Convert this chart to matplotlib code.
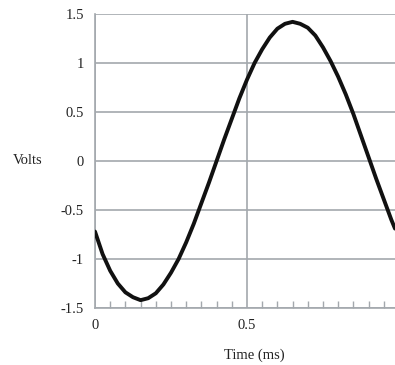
import matplotlib.pyplot as plt
from matplotlib.ticker import MultipleLocator

# time in ms, voltage in V
time_ms = [0.000, 0.025, 0.050, 0.075, 0.100, 0.125, 0.150, 0.175, 0.200, 0.225,
           0.250, 0.275, 0.300, 0.325, 0.350, 0.375, 0.400, 0.425, 0.450, 0.475,
           0.500, 0.525, 0.550, 0.575, 0.600, 0.625, 0.650, 0.675, 0.700, 0.725,
           0.750, 0.775, 0.800, 0.825, 0.850, 0.875, 0.900, 0.925, 0.950, 0.975,
           0.987]
volts = [-0.72, -0.95, -1.12, -1.25, -1.34, -1.39, -1.42, -1.40, -1.35, -1.26,
         -1.14, -1.00, -0.83, -0.64, -0.43, -0.22, 0.00, 0.22, 0.43, 0.64,
         0.83, 1.00, 1.14, 1.26, 1.35, 1.40, 1.42, 1.40, 1.36, 1.28,
         1.16, 1.02, 0.86, 0.68, 0.48, 0.26, 0.04, -0.18, -0.39, -0.60,
         -0.69]

x_max = 0.987
y_ticks = [-1.5, -1, -0.5, 0, 0.5, 1, 1.5]
y_labels = ['-1.5', '-1', '-0.5', '0', '0.5', '1', '1.5']

plt.rcParams['font.family'] = ['Liberation Serif', 'DejaVu Serif']
grid_col = '#a3a8ad'
txt_col = '#222222'

fig = plt.figure(figsize=(3.95, 3.65), dpi=100)
ax = fig.add_axes([95 / 395, 1 - 308 / 365, 1 - 95 / 395, (308 - 14) / 365])

ax.plot(time_ms, volts, color='#111111', lw=2.8, solid_capstyle='round', zorder=3)

ax.set_xlim(0, x_max)
ax.set_ylim(-1.5, 1.5)
ax.set_yticks(y_ticks)
ax.set_yticklabels(y_labels)
ax.set_xticks([0, 0.5])
ax.set_xticklabels(['0', '0.5'])
ax.xaxis.set_minor_locator(MultipleLocator(0.05))

ax.grid(True, which='major', color=grid_col, lw=1.2)
for s in ['top', 'right']:
    ax.spines[s].set_visible(False)
for s in ['left', 'bottom']:
    ax.spines[s].set_color(grid_col)
    ax.spines[s].set_linewidth(1.2)

ax.tick_params(axis='y', length=0, pad=8, labelsize=10.5, labelcolor=txt_col)
ax.tick_params(axis='x', which='major', length=0, pad=8, labelsize=10.5, labelcolor=txt_col)
ax.tick_params(axis='x', which='minor', direction='in', length=5, width=1, color=grid_col)

ax.set_xlabel('Time (ms)', fontsize=10.5, color=txt_col, va='center')
ax.xaxis.set_label_coords(0.53, -0.16)
ax.set_ylabel('Volts', fontsize=10.5, rotation=0, color=txt_col, va='center', ha='left')
ax.yaxis.set_label_coords(-0.275, 0.5)

fig.savefig('out.png', dpi=100)
